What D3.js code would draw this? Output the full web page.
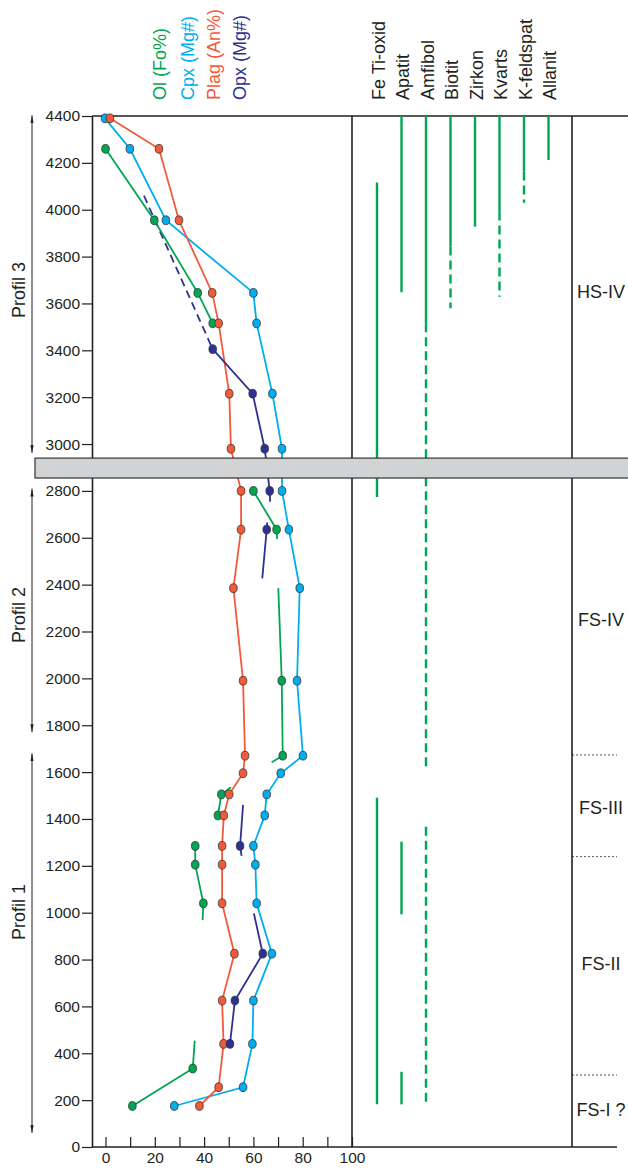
<!DOCTYPE html>
<html>
<head>
<meta charset="utf-8">
<script src="https://cdn.jsdelivr.net/npm/d3@7"></script>
<style>
  body { margin: 0; background: #fff; }
  svg { font-family: "Liberation Sans", Arial, Helvetica, sans-serif; }
</style>
</head>
<body>
<script>
const svgWidth = 628
const svgHeight = 1168

// depth (m) and composition data, vertices: [value, depth, dot]
const olSegments = [
    [[0, 4260, 1], [19.8, 3955, 1], [37.4, 3645, 1], [43.5, 3515, 1]],
    [[60, 2800, 1], [69.4, 2635, 1], [69.6, 2595, 0]],
    [[70.1, 2385, 0], [71.5, 1990, 1], [71.9, 1670, 1], [67.4, 1642, 0]],
    [[50.9, 1535, 0], [47, 1505, 1], [45.6, 1415, 1]],
    [[36.4, 1285, 1], [36.4, 1205, 1], [39.7, 1040, 1], [39.4, 969, 0]],
    [[36.2, 454, 0], [35.4, 335, 1], [10.9, 175, 1]]
]
const cpxSegments = [
    [[-0.2, 4390, 1], [9.9, 4260, 1], [24.5, 3955, 1], [60, 3645, 1], [61.3, 3515, 1],
     [67.7, 3215, 1], [71.6, 2980, 1], [71.6, 2800, 1], [74.4, 2635, 1], [78.8, 2385, 1],
     [77.7, 1990, 1], [80.1, 1670, 1], [71.1, 1595, 1], [65.4, 1505, 1], [64.6, 1415, 1],
     [60, 1285, 1], [60.8, 1205, 1], [61.3, 1040, 1], [67.5, 825, 1], [60, 625, 1],
     [59.6, 440, 1], [55.8, 255, 1], [27.9, 175, 1]]
]
const plagSegments = [
    [[1.8, 4390, 1], [21.7, 4260, 1], [29.8, 3955, 1], [43.3, 3645, 1], [45.9, 3515, 1],
     [50.2, 3215, 1], [50.9, 2980, 1], [55, 2800, 1], [55, 2635, 1], [51.9, 2385, 1],
     [55.8, 1990, 1], [56.6, 1670, 1], [55.8, 1595, 1], [50.2, 1505, 1], [48, 1415, 1],
     [47.3, 1285, 1], [47.3, 1205, 1], [47.3, 1040, 1], [52.3, 825, 1], [47.3, 625, 1],
     [47.9, 440, 1], [45.9, 255, 1], [38.1, 175, 1]]
]
const opxSegments = [
    [[43.5, 3405, 1], [59.7, 3215, 1], [64.6, 2980, 1], [66.6, 2800, 1], [66.8, 2754, 0]],
    [[65.6, 2665, 0], [65.4, 2635, 1], [63.6, 2427, 0]],
    [[55.8, 1460, 0], [54.6, 1285, 1], [55.2, 1242, 0]],
    [[60.2, 997, 0], [63.8, 825, 1], [52.5, 625, 1], [50.5, 440, 1]]
]
const opxDashed = [[15.6, 4060], [43.5, 3405]]

const seriesNames = ["Ol (Fo%)", "Cpx (Mg#)", "Plag (An%)", "Opx (Mg#)"]
const seriesColors = ["#00a651", "#00aeef", "#f15a3a", "#2e3192"]
const seriesData = [olSegments, cpxSegments, plagSegments, opxSegments]

const minerals = ["Fe Ti-oxid", "Apatit", "Amfibol", "Biotit", "Zirkon", "Kvarts", "K-feldspat", "Allanit"]
// [mineral, top depth, bottom depth]
const mineralSolid = [
    ["Fe Ti-oxid", 4116, 2774], ["Fe Ti-oxid", 1491, 182],
    ["Apatit", 4400, 3648], ["Apatit", 1303, 993], ["Apatit", 321, 182],
    ["Amfibol", 4400, 3515],
    ["Biotit", 4400, 3843],
    ["Zirkon", 4400, 3928],
    ["Kvarts", 4400, 3992],
    ["K-feldspat", 4400, 4163],
    ["Allanit", 4400, 4212]
]
const mineralDashed = [
    ["Amfibol", 3515, 1610], ["Amfibol", 1367, 182],
    ["Biotit", 3843, 3580],
    ["Kvarts", 3992, 3629],
    ["K-feldspat", 4163, 4030]
]

const zoneLabels = ["HS-IV", "FS-IV", "FS-III", "FS-II", "FS-I ?"]
const zoneLabelDepths = [3650, 2250, 1447, 781, 162]
const zoneBoundaries = [1673, 1239, 307]

const profileNames = ["Profil 3", "Profil 2", "Profil 1"]
const profileRanges = [[4403, 2962], [2810, 1770], [1680, 60]]
const profileLabelDepths = [3657, 2270, 1003]

const breakDepths = [2855, 2940]

const depthTicks = d3.range(0, 4401, 200)
const valueTicks = d3.range(0, 101, 10)

const ink = "#231f20"

const svg = d3.select("body").append("svg")
    .attr("width", svgWidth)
    .attr("height", svgHeight)

const x = d3.scaleLinear().domain([0, 100]).range([105.5, 352])
const y = d3.scaleLinear().domain([0, 4400]).range([1147, 116])
const xMin = d3.scalePoint().domain(minerals).range([377, 548.5])

const leftEdge = 92
const panelEdge = 572

svg.append("defs").append("marker")
    .attr("id", "arrow")
    .attr("viewBox", "0 0 10 10")
    .attr("refX", 10).attr("refY", 5)
    .attr("markerWidth", 8).attr("markerHeight", 8)
    .attr("markerUnits", "userSpaceOnUse")
    .attr("orient", "auto-start-reverse")
    .append("path")
    .attr("d", "M0,3 L10,5 L0,7 Z")
    .attr("fill", ink)

// frame
const frame = svg.append("g").attr("stroke", ink).attr("stroke-width", 1.6)
frame.append("line").attr("x1", leftEdge).attr("x2", svgWidth).attr("y1", y(4400)).attr("y2", y(4400))
frame.append("line").attr("x1", leftEdge).attr("x2", 617).attr("y1", y(0)).attr("y2", y(0))
frame.append("line").attr("x1", x(100)).attr("x2", x(100)).attr("y1", y(4400)).attr("y2", y(0))
frame.append("line").attr("x1", panelEdge).attr("x2", panelEdge).attr("y1", y(4400)).attr("y2", y(0))

// y axis
const yAxis = svg.append("g")
    .attr("transform", `translate(${leftEdge},0)`)
    .call(d3.axisLeft(y).tickValues(depthTicks).tickSize(10).tickPadding(2).tickSizeOuter(0)
        .tickFormat(d3.format("d")))
yAxis.select(".domain").attr("stroke", ink).attr("stroke-width", 1.6)
yAxis.selectAll(".tick line").attr("stroke", ink).attr("stroke-width", 1.2)
yAxis.selectAll("text").attr("font-size", 15.5).attr("fill", ink).attr("font-family", "Liberation Sans, Arial, sans-serif")

// x axis
const xAxis = svg.append("g")
    .attr("transform", `translate(0,${y(0)})`)
    .call(d3.axisBottom(x).tickValues(valueTicks).tickSize(-10).tickPadding(5)
        .tickFormat(d => d % 20 === 0 ? d : ""))
xAxis.select(".domain").remove()
xAxis.selectAll(".tick line").attr("stroke", ink).attr("stroke-width", 1.2)
xAxis.selectAll("text").attr("font-size", 15.5).attr("fill", ink).attr("font-family", "Liberation Sans, Arial, sans-serif")

// mineral ranges
const minG = svg.append("g").attr("stroke", "#00a651").attr("stroke-width", 2.4)
minG.selectAll(".solid").data(mineralSolid).join("line")
    .attr("x1", d => xMin(d[0])).attr("x2", d => xMin(d[0]))
    .attr("y1", d => y(d[1])).attr("y2", d => y(d[2]))
minG.selectAll(".dash").data(mineralDashed).join("line")
    .attr("class", "dash")
    .attr("x1", d => xMin(d[0])).attr("x2", d => xMin(d[0]))
    .attr("y1", d => y(d[1])).attr("y2", d => y(d[2]))
    .attr("stroke-dasharray", "9,5")

svg.selectAll(".minlabel").data(minerals).join("text")
    .attr("class", "minlabel")
    .attr("transform", d => `translate(${xMin(d) + 7.5},100) rotate(-90)`)
    .attr("font-size", 18)
    .attr("fill", ink)
    .text(d => d)

// series
const line = d3.line().x(d => x(d[0])).y(d => y(d[1]))

svg.append("path")
    .attr("d", line(opxDashed))
    .attr("fill", "none")
    .attr("stroke", seriesColors[3])
    .attr("stroke-width", 1.8)
    .attr("stroke-dasharray", "8,5")

seriesData.forEach((segs, i) => {
    svg.append("g").selectAll("path").data(segs).join("path")
        .attr("d", line)
        .attr("fill", "none")
        .attr("stroke", seriesColors[i])
        .attr("stroke-width", 1.8)
})

seriesData.forEach((segs, i) => {
    svg.append("g").selectAll("ellipse").data(segs.flat().filter(d => d[2])).join("ellipse")
        .attr("cx", d => x(d[0]))
        .attr("cy", d => y(d[1]))
        .attr("rx", 3.8).attr("ry", 4.4)
        .attr("fill", seriesColors[i])
        .attr("stroke", "#333")
        .attr("stroke-width", 0.8)
})

svg.selectAll(".serlabel").data(seriesNames).join("text")
    .attr("class", "serlabel")
    .attr("transform", (d, i) => `translate(${[166, 194, 219.5, 246][i]},100) rotate(-90)`)
    .attr("font-size", 18)
    .attr("fill", (d, i) => seriesColors[i])
    .text(d => d)

// gray break band
svg.append("rect")
    .attr("x", 35).attr("width", svgWidth - 35 + 2)
    .attr("y", y(breakDepths[1]))
    .attr("height", y(breakDepths[0]) - y(breakDepths[1]))
    .attr("fill", "#d1d3d4")
    .attr("stroke", "#333")
    .attr("stroke-width", 1.2)

// zones
svg.selectAll(".zone").data(zoneLabels).join("text")
    .attr("x", 601)
    .attr("y", (d, i) => y(zoneLabelDepths[i]))
    .attr("dy", "0.36em")
    .attr("text-anchor", "middle")
    .attr("font-size", 18)
    .attr("fill", ink)
    .text(d => d)

svg.selectAll(".bound").data(zoneBoundaries).join("line")
    .attr("x1", panelEdge).attr("x2", 617)
    .attr("y1", d => y(d)).attr("y2", d => y(d))
    .attr("stroke", ink)
    .attr("stroke-width", 0.8)
    .attr("stroke-dasharray", "2,2")

// profiles
svg.selectAll(".prof").data(profileRanges).join("line")
    .attr("x1", 32).attr("x2", 32)
    .attr("y1", d => y(d[0])).attr("y2", d => y(d[1]))
    .attr("stroke", ink)
    .attr("stroke-width", 1)
    .attr("marker-start", "url(#arrow)")
    .attr("marker-end", "url(#arrow)")

svg.selectAll(".proflabel").data(profileNames).join("text")
    .attr("transform", (d, i) => `translate(25,${y(profileLabelDepths[i])}) rotate(-90)`)
    .attr("text-anchor", "middle")
    .attr("font-size", 18)
    .attr("fill", ink)
    .text(d => d)
</script>
</body>
</html>
